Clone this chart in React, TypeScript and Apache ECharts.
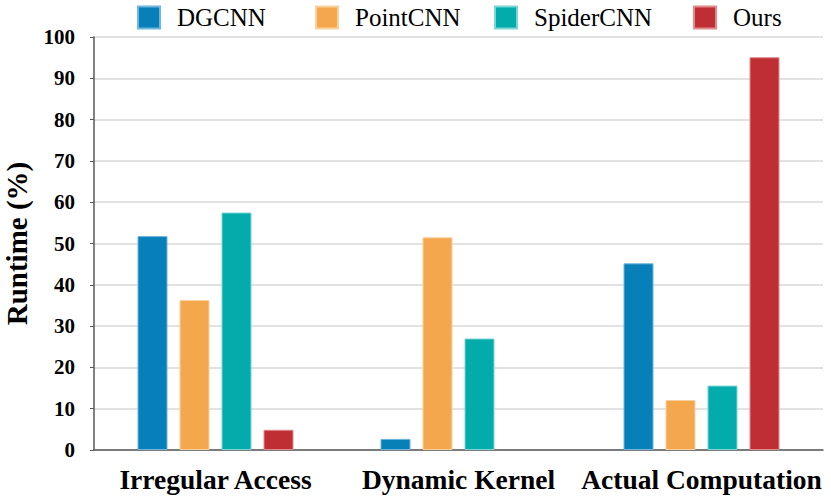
import React, { useEffect, useRef } from "react";
import * as echarts from "echarts";

const categories = ["Irregular Access", "Dynamic Kernel", "Actual Computation"];
const seriesNames = ["DGCNN", "PointCNN", "SpiderCNN", "Ours"];
const dgcnn = [51.8, 2.7, 45.2];
const pointcnn = [36.3, 51.5, 12.1];
const spidercnn = [57.5, 27.0, 15.6];
const ours = [4.9, 0, 95.1];
const colors = ["#0780BA", "#F4A74C", "#03ABAB", "#BE2E33"];
const borders = ["#6FB6DC", "#F9D19F", "#7CD6D6", "#E08A8D"];
const legendLeft = [137, 315, 494, 693];

export default function App() {
  const ref = useRef<HTMLDivElement>(null);
  useEffect(() => {
    if (!ref.current) return;
    const chart = echarts.init(ref.current, undefined, { renderer: "svg" });
    const data = [dgcnn, pointcnn, spidercnn, ours];
    const font = "'Liberation Serif'";
    chart.setOption({
      animation: false,
      textStyle: { fontFamily: font },
      legend: seriesNames.map((name, i) => ({
        top: 5,
        left: legendLeft[i],
        padding: 0,
        itemWidth: 22,
        itemHeight: 22,
        icon: "rect",
        textStyle: {
          fontFamily: font,
          fontSize: 25,
          lineHeight: 22,
          color: "#000",
          padding: [0, 0, 0, 12],
        },
        data: [name],
      })),
      grid: {
        left: 94,
        right: 8,
        top: 37,
        bottom: 50,
        containLabel: false,
        outerBoundsMode: "none",
      },
      xAxis: {
        type: "category",
        data: categories,
        axisLine: { lineStyle: { color: "#595959", width: 1.5 } },
        axisTick: { show: false },
        axisLabel: {
          interval: 0,
          fontFamily: font,
          fontSize: 27.5,
          fontWeight: "bold",
          color: "#000",
          margin: 15,
        },
      },
      yAxis: {
        type: "value",
        min: 0,
        max: 100,
        interval: 10,
        name: "Runtime (%)",
        nameLocation: "middle",
        nameGap: 63,
        nameTextStyle: {
          fontFamily: font,
          fontSize: 29,
          lineHeight: 29,
          fontWeight: "bold",
          color: "#000",
        },
        axisLine: { show: true, lineStyle: { color: "#595959", width: 1.5 } },
        axisTick: { show: true, length: 4, lineStyle: { color: "#595959" } },
        axisLabel: {
          fontFamily: font,
          fontSize: 21,
          fontWeight: "bold",
          color: "#000",
          margin: 19,
        },
        splitLine: { lineStyle: { color: "#D9D9D9", width: 1.5 } },
      },
      series: seriesNames.map((name, i) => ({
        name,
        type: "bar",
        data: data[i].map((v) => (v === 0 ? { value: v, itemStyle: { borderWidth: 0 } } : v)),
        barWidth: 30,
        barGap: "40%",
        itemStyle: { color: colors[i], borderColor: borders[i], borderWidth: 1 },
      })),
    });
    return () => chart.dispose();
  }, []);
  return (
    <div
      ref={ref}
      style={{ position: "absolute", left: 0, top: 0, width: 831, height: 500 }}
    />
  );
}
